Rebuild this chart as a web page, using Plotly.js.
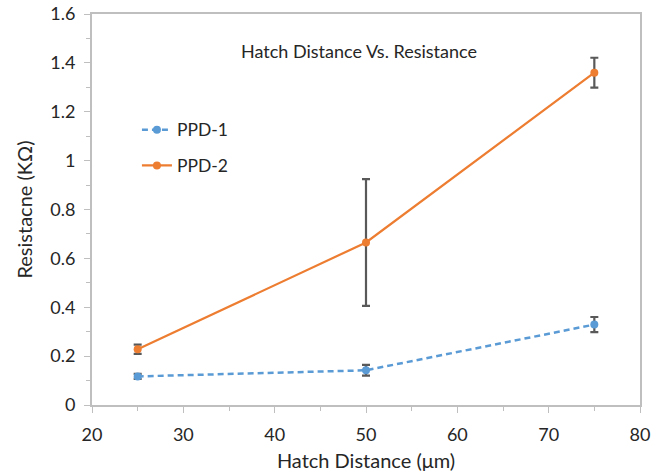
<!DOCTYPE html>
<html>
<head>
<meta charset="utf-8">
<script src="https://cdn.plot.ly/plotly-3.0.1.min.js"></script>
<style>html,body{margin:0;padding:0;background:#fff;}#chart{width:663px;height:476px;}</style>
</head>
<body>
<div id="chart"></div>
<script>
const hatchDistance = [25, 50, 75];
const ppd1 = [0.117, 0.142, 0.329];
const ppd1Err = [0.010, 0.022, 0.031];
const ppd2 = [0.228, 0.665, 1.360];
const ppd2Err = [0.019, 0.259, 0.061];
const seriesNames = ['PPD-1', 'PPD-2'];
const xTicks = [20, 30, 40, 50, 60, 70, 80];
const yTicks = [0, 0.2, 0.4, 0.6, 0.8, 1, 1.2, 1.4, 1.6];
const yTickText = ['0', '0.2', '0.4', '0.6', '0.8', '1', '1.2', '1.4', '1.6'];

const fontFam = 'Lato, Open Sans, sans-serif';
const errStyle = {type: 'data', visible: true, color: '#595959', thickness: 2.2, width: 4};

const traces = [
  {
    x: hatchDistance, y: ppd1, name: seriesNames[0], type: 'scatter', mode: 'lines+markers',
    line: {color: '#5B9BD5', width: 2.5, dash: '6px,4px'},
    marker: {color: '#5B9BD5', size: 8},
    error_y: Object.assign({array: ppd1Err}, errStyle),
    legendgroup: 'a'
  },
  {
    x: hatchDistance, y: ppd2, name: seriesNames[1], type: 'scatter', mode: 'lines+markers',
    line: {color: '#ED7D31', width: 2.2},
    marker: {color: '#ED7D31', size: 8},
    error_y: Object.assign({array: ppd2Err}, errStyle),
    legendgroup: 'b'
  }
];

const layout = {
  width: 663, height: 476,
  margin: {l: 92, r: 23, t: 14, b: 71},
  paper_bgcolor: '#fff', plot_bgcolor: '#fff',
  font: {family: fontFam, color: '#262626'},
  showlegend: true,
  legend: {
    x: 0.082, y: 0.75, xanchor: 'left', yanchor: 'top',
    bgcolor: 'rgba(0,0,0,0)', font: {size: 17.5, color: '#262626', family: fontFam},
    traceorder: 'grouped', tracegroupgap: 10
  },
  xaxis: {
    range: [20, 80], tickvals: xTicks, ticktext: xTicks.map(String),
    showgrid: false, zeroline: false, showline: true, linecolor: '#bfbfbf', linewidth: 2, mirror: true,
    ticks: 'outside', ticklen: 6, tickcolor: '#bfbfbf', tickwidth: 1,
    minor: {dtick: 5, ticks: 'outside', ticklen: 4, tickcolor: '#bfbfbf'},
    tickfont: {size: 18, color: '#262626'},
    ticklabelstandoff: 6,
    title: {text: 'Hatch Distance (μm)', font: {size: 20, color: '#262626'}, standoff: 10}
  },
  yaxis: {
    range: [0, 1.6], tickvals: yTicks, ticktext: yTickText,
    showgrid: false, zeroline: false, showline: true, linecolor: '#bfbfbf', linewidth: 2, mirror: true,
    ticks: 'outside', ticklen: 6, tickcolor: '#bfbfbf', tickwidth: 1,
    minor: {dtick: 0.1, ticks: 'outside', ticklen: 4, tickcolor: '#bfbfbf'},
    tickfont: {size: 18, color: '#262626'},
    ticklabelstandoff: 5,
    title: {text: 'Resistacne (KΩ)', font: {size: 20, color: '#262626'}, standoff: 12}
  },
  annotations: [{
    text: 'Hatch Distance Vs. Resistance', xref: 'paper', yref: 'paper',
    x: 0.487, y: 0.905, xanchor: 'center', yanchor: 'middle', showarrow: false,
    font: {size: 18, color: '#262626', family: fontFam}
  }]
};

Plotly.newPlot('chart', traces, layout, {displayModeBar: false, staticPlot: true});
</script>
</body>
</html>
